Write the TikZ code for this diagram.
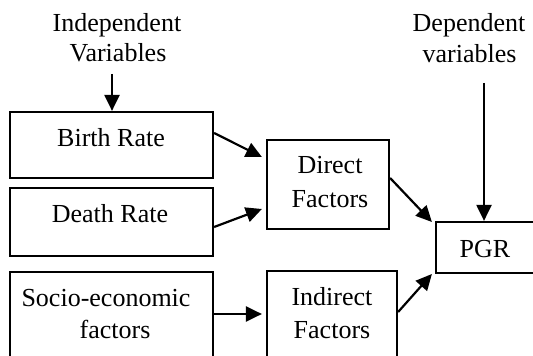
\documentclass[tikz,border=0pt]{standalone}
\usepackage{fontspec}
\setmainfont{Liberation Serif}
\usetikzlibrary{arrows.meta,calc}
\begin{document}
\begin{tikzpicture}[x=0.5pt,y=-0.5pt,
  box/.style={draw,line width=1.1pt,inner sep=0pt,minimum width=#1},
  lbl/.style={anchor=base,inner sep=0pt,font=\fontsize{13}{15.5}\selectfont},
  conn/.style={line width=1.1pt,-{Triangle[length=8pt,width=7.5pt]}}]
\useasboundingbox (0,0) rectangle (533,356);
% boxes
\node[box=101.5pt,minimum height=33pt] (birth) at (111.5,145) {};
\node[box=101.5pt,minimum height=34pt] (death) at (111.5,222) {};
\node[box=101.5pt,minimum height=43pt] (socio) at (111.5,315) {};
\node[box=61pt,minimum height=44.5pt] (direct) at (328,184.5) {};
\node[box=65pt,minimum height=43.5pt] (indirect) at (332,314.5) {};
\node[box=49.5pt,minimum height=25.5pt] (pgr) at (485.5,247.5) {};
% texts
\node[lbl] (t1) at (117,32) {Independent};
\node[lbl] (t2) at (118,62) {Variables};
\node[lbl] (t3) at (469,32) {Dependent};
\node[lbl] (t4) at (469.5,63) {variables};
\node[lbl] (t5) at (111,147) {Birth Rate};
\node[lbl] (t6) at (110,223) {Death Rate};
\node[lbl] (t7) at (106,307) {Socio-economic};
\node[lbl] (t8) at (115,338) {factors};
\node[lbl] (t9) at (330,174) {Direct};
\node[lbl] (t10) at (330,208) {Factors};
\node[lbl] (t11) at (332,306) {Indirect};
\node[lbl] (t12) at (332,338) {Factors};
\node[lbl] (t13) at (485,258) {PGR};
% connectors
\coordinate (itop) at (112,74);
\coordinate (dtop) at (484,83);
\draw[conn] (itop) -- (birth.north -| itop);
\draw[conn] (dtop) -- (pgr.north -| dtop);
\draw[conn] ($(birth.east)+(0,-12)$) -- ($(direct.west)+(-4,-27.5)$);
\draw[conn] ($(death.east)+(0,5)$) -- ($(direct.west)+(-4,24.5)$);
\draw[conn] ($(socio.east)+(0,-1)$) -- ($(indirect.west)+(-4,-0.5)$);
\draw[conn] ($(direct.east)+(0,-6.5)$) -- ($(pgr.west)+(-3,-25.5)$);
\draw[conn] ($(indirect.east)+(0,-2.5)$) -- ($(pgr.west)+(-3,26.5)$);
\end{tikzpicture}
\end{document}
